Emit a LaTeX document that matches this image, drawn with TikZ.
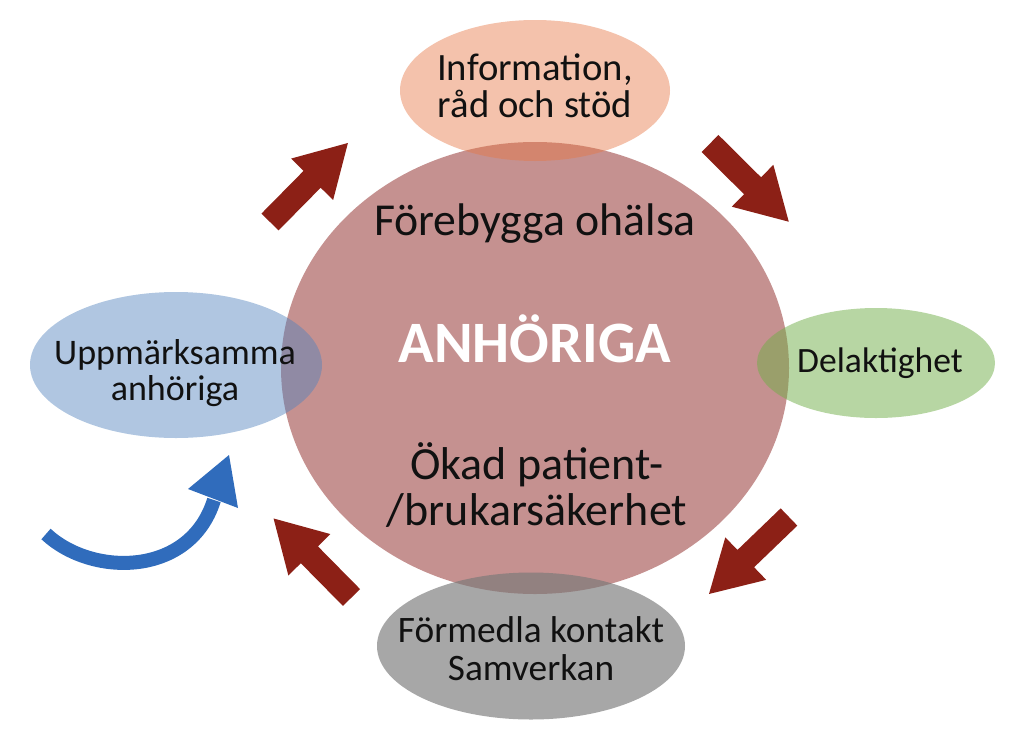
\documentclass[tikz,border=0pt]{standalone}
\usepackage{fontspec}
\setmainfont{Carlito}
\usetikzlibrary{shapes.geometric}
\definecolor{arrowred}{RGB}{140,32,22}
\definecolor{circbase}{RGB}{149,55,53}
\definecolor{salmonbase}{RGB}{230,120,70}
\definecolor{bluebase}{RGB}{79,129,189}
\definecolor{greenbase}{RGB}{112,173,71}
\definecolor{graybase}{RGB}{120,120,120}
\definecolor{arrowblue}{RGB}{48,108,188}
\definecolor{txt}{RGB}{17,17,17}
\tikzset{
  blob/.style={ellipse, inner sep=0pt, draw=none},
  lbl/.style={inner sep=0pt, text=txt, align=center, anchor=base},
  redblock/.pic={\fill[arrowred] (0,-12) -- (60,-12) -- (60,-29.5) -- (111,0) -- (60,29.5) -- (60,12) -- (0,12) -- cycle;}
}
\begin{document}
\begin{tikzpicture}[x=0.75pt,y=-0.75pt]
\useasboundingbox (0,0) rectangle (1024,732);
% central circle
\node[blob, fill=circbase, fill opacity=0.55, minimum width=381pt, minimum height=339pt] (main) at (535,368) {};
% outer ellipses
\node[blob, fill=salmonbase, fill opacity=0.45, minimum width=202.5pt, minimum height=105.75pt] (info) at (535,90.5) {};
\node[blob, fill=bluebase, fill opacity=0.45, minimum width=219pt, minimum height=109.5pt] (upp) at (176,365) {};
\node[blob, fill=greenbase, fill opacity=0.5, minimum width=178.5pt, minimum height=82.5pt] (del) at (876,363) {};
\node[blob, fill=graybase, fill opacity=0.65, minimum width=231pt, minimum height=110.25pt] (form) at (531,646) {};
% red block arrows
\pic[rotate=45.4] at (270,222) {redblock};
\pic[rotate=-44.8] at (710,143.5) {redblock};
\pic[rotate=-136.1] at (789,517) {redblock};
\pic[rotate=134.6] at (351.5,597.5) {redblock};
% blue curved arrow
\coordinate (bstart) at (46,534);
\coordinate (bend) at (214,500);
\draw[arrowblue, line width=10.5pt] (bstart) .. controls (92,577) and (190,577) .. (bend);
\fill[arrowblue] (188,489) -- (229,455) -- (238,508) -- cycle;
% texts
\node[lbl, font=\fontsize{29}{27.5}\selectfont] (tinfo) at (535,117) {Information,\\råd och stöd};
\node[lbl, font=\fontsize{34.3}{34}\selectfont] (tfore) at (535,235) {Förebygga ohälsa};
\node[lbl, font=\bfseries\fontsize{44}{44}\selectfont, text=white] (tanh) at (535,362) {ANHÖRIGA};
\node[lbl, font=\fontsize{34.5}{34}\selectfont] (tokad) at (537,525) {Ökad patient-\\/brukarsäkerhet};
\node[lbl, font=\fontsize{27}{26.3}\selectfont] (tupp) at (175,400) {Uppmärksamma\\anhöriga};
\node[lbl, font=\fontsize{26.7}{26}\selectfont] (tdel) at (880,372) {Delaktighet};
\node[lbl, font=\fontsize{28}{28.5}\selectfont] (tform) at (531,680) {Förmedla kontakt\\Samverkan};
\end{tikzpicture}
\end{document}
